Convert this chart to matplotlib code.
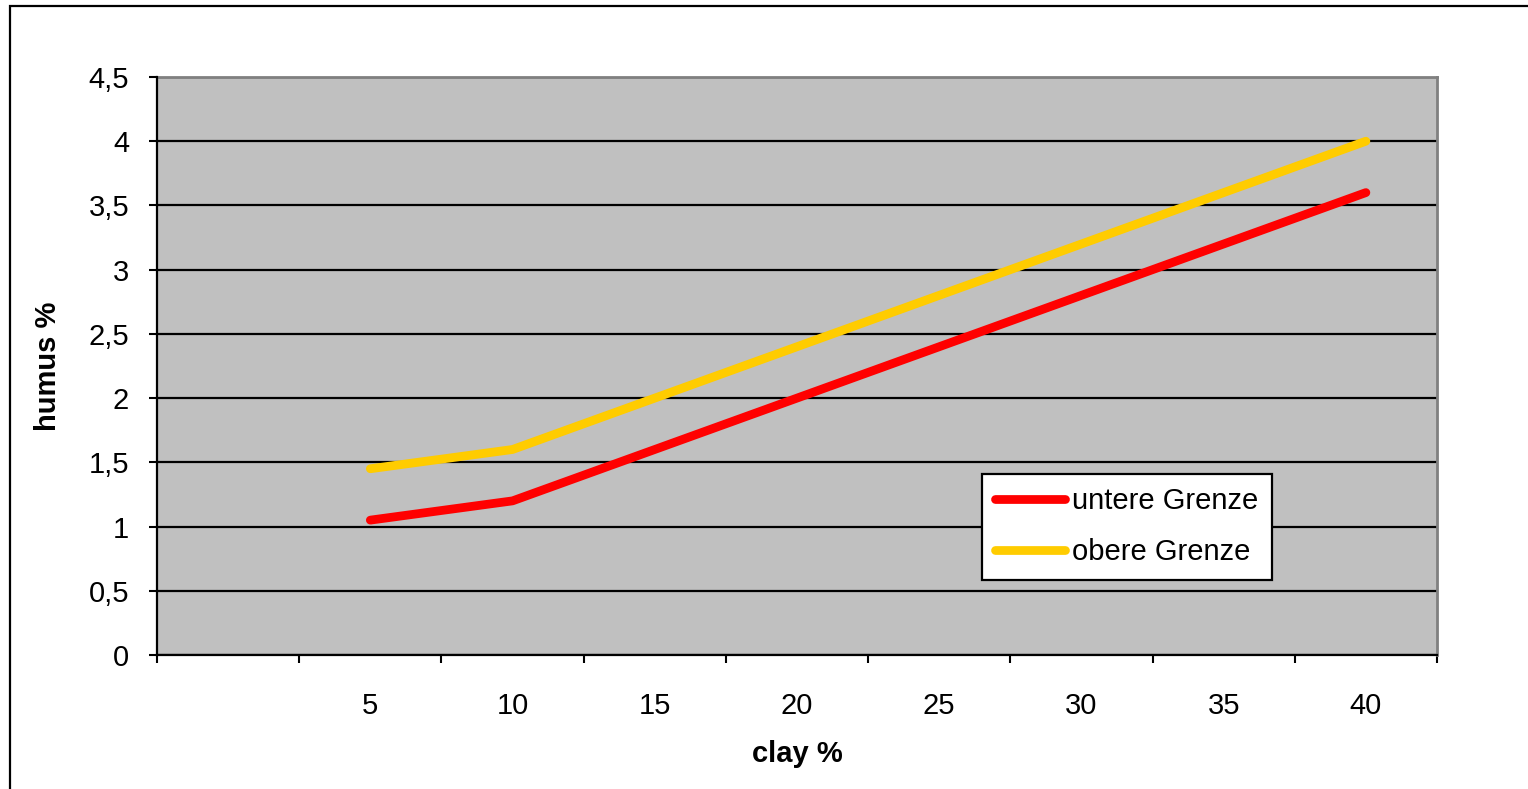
import numpy as np
import matplotlib
matplotlib.use('Agg')
import matplotlib.pyplot as plt
from matplotlib.patches import Rectangle
from matplotlib.ticker import FuncFormatter, FixedLocator, NullFormatter

plt.rcParams['font.family'] = ['Liberation Sans', 'DejaVu Sans']

# categories of the x axis (first slot is empty in the original sheet)
categories = ['', '5', '10', '15', '20', '25', '30', '35', '40']
untere_grenze = [np.nan, 1.05, 1.2, 1.6, 2.0, 2.4, 2.8, 3.2, 3.6]
obere_grenze = [np.nan, 1.45, 1.6, 2.0, 2.4, 2.8, 3.2, 3.6, 4.0]
y_ticks = [0, 0.5, 1, 1.5, 2, 2.5, 3, 3.5, 4, 4.5]

W, H = 1528, 789
fs = 21
fig = plt.figure(figsize=(W / 100, H / 100), dpi=100)
fig.patches.append(Rectangle((10 / W, -0.1), 1.2, 1.1 - 6 / H, transform=fig.transFigure,
                             fill=False, edgecolor='black', linewidth=1.6))

ax = fig.add_axes([157 / W, 1 - 655 / H, (1437 - 157) / W, (655 - 77) / H])
ax.set_facecolor('#c0c0c0')

pos = np.arange(len(categories)) + 0.5
ax.plot(pos, untere_grenze, color='#ff0000', lw=6.3, solid_capstyle='round',
        solid_joinstyle='round', label='untere Grenze', zorder=3)
ax.plot(pos, obere_grenze, color='#ffcc00', lw=6.3, solid_capstyle='round',
        solid_joinstyle='round', label='obere Grenze', zorder=3)

ax.set_xlim(0, len(categories))
ax.set_ylim(0, 4.5)

ax.xaxis.set_major_locator(FixedLocator(np.arange(len(categories) + 1)))
ax.xaxis.set_major_formatter(NullFormatter())
ax.xaxis.set_minor_locator(FixedLocator(pos))
ax.set_xticklabels(categories, minor=True)
ax.tick_params(axis='x', which='major', direction='out', length=6, width=1.5, color='black')
ax.tick_params(axis='x', which='minor', length=0, pad=27, labelsize=fs)

ax.set_yticks(y_ticks)
ax.yaxis.set_major_formatter(FuncFormatter(lambda v, p: ('%g' % v).replace('.', ',')))
ax.tick_params(axis='y', direction='out', length=6, width=1.5, pad=14, labelsize=fs)

ax.grid(axis='y', color='black', linewidth=1.6)
ax.set_axisbelow(True)

for s in ['left', 'bottom']:
    ax.spines[s].set_color('black')
    ax.spines[s].set_linewidth(1.6)
    ax.spines[s].set_zorder(4)
for s in ['top', 'right']:
    ax.spines[s].set_color('#808080')
    ax.spines[s].set_linewidth(2)

ax.set_xlabel('clay %', fontsize=fs, fontweight='bold', labelpad=14)
ax.set_ylabel('humus %', fontsize=fs, fontweight='bold', labelpad=19)

leg = ax.legend(loc='upper left', bbox_to_anchor=((982 - 157) / 1280, (655 - 474) / 578),
                fontsize=fs, frameon=True, fancybox=False, framealpha=1,
                edgecolor='black', handlelength=2.4, handletextpad=0.25,
                labelspacing=0.8, borderpad=0.45, borderaxespad=0)
leg.get_frame().set_linewidth(1.6)
leg.set_zorder(5)
for h in leg.get_lines():
    h.set_solid_capstyle('round')

fig.savefig('out.png', dpi=100)
